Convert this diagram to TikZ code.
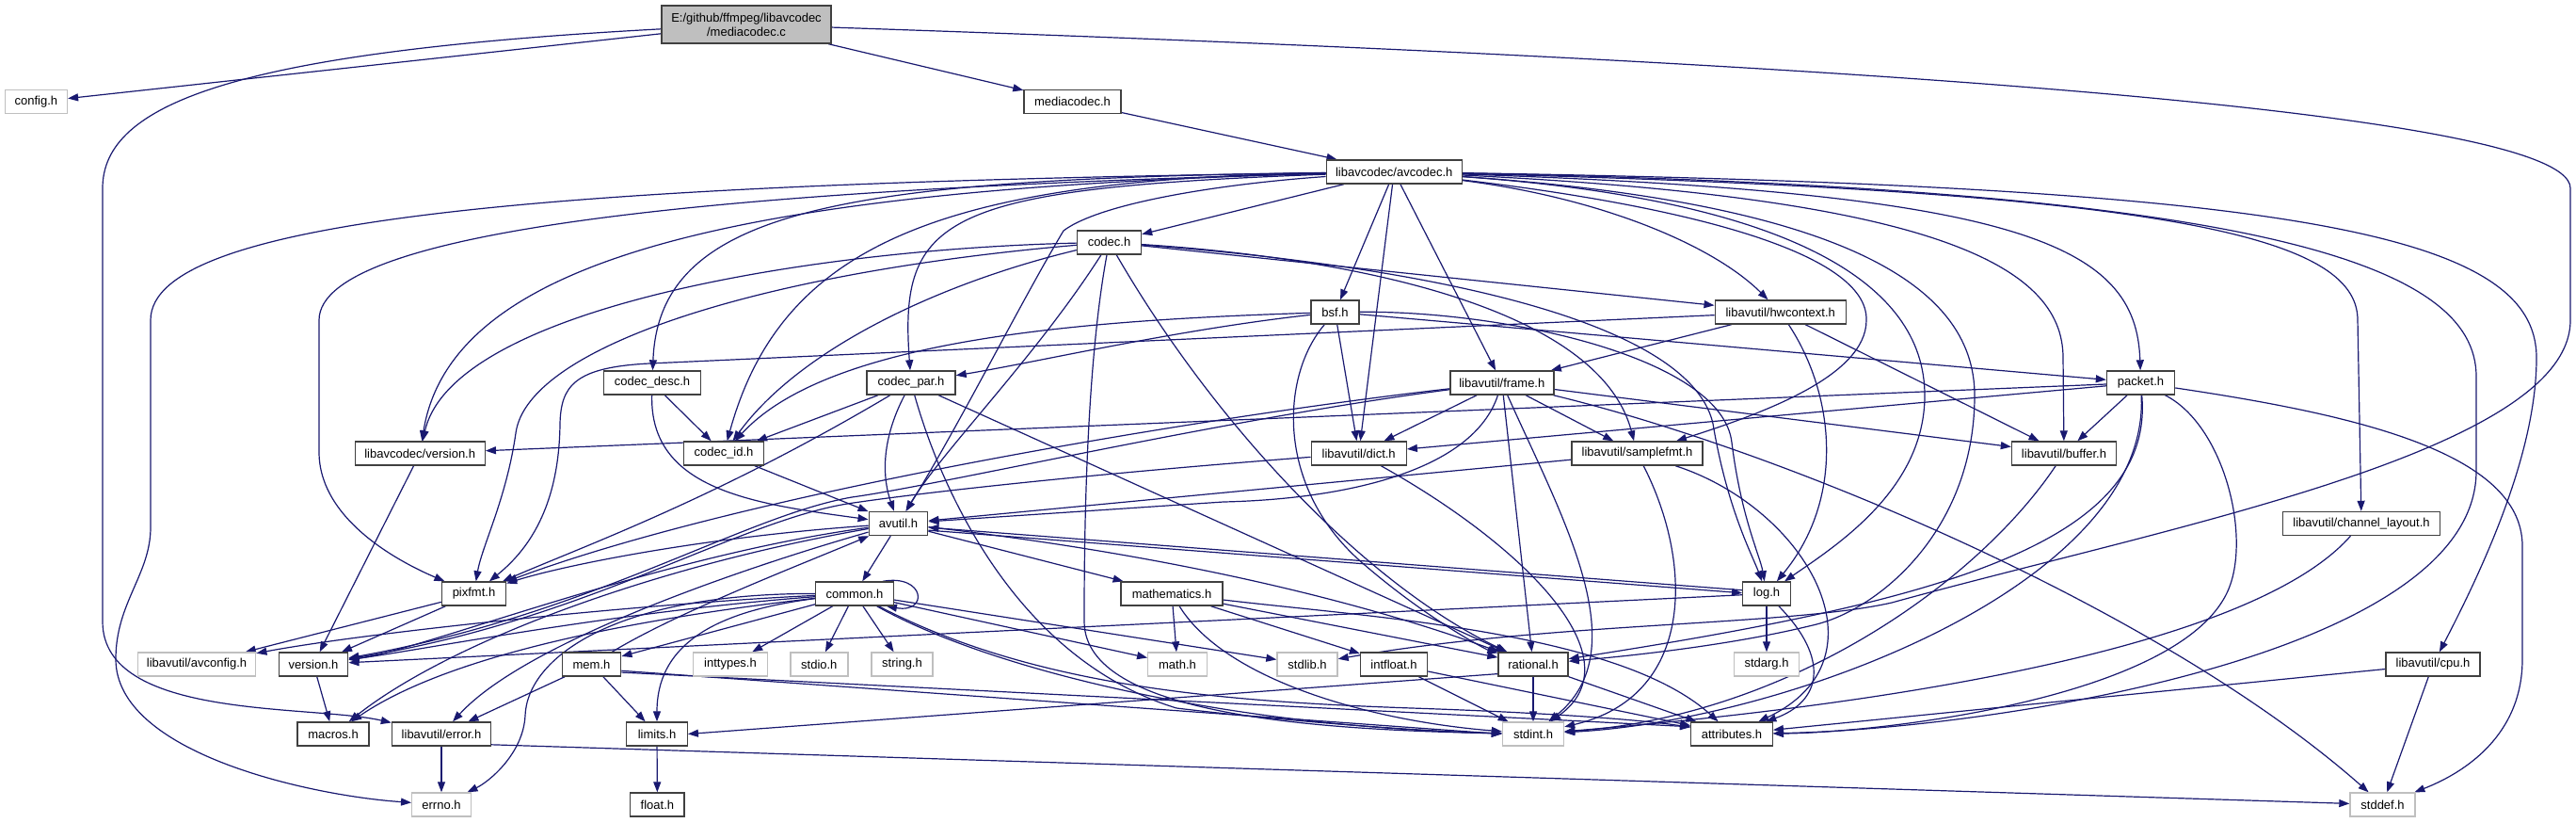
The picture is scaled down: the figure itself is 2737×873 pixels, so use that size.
\documentclass[tikz,border=0pt]{standalone}
\usepackage{fontspec}
\setmainfont{Liberation Sans}
\usetikzlibrary{arrows.meta}
\pgfdeclarelayer{bgzero}
\pgfdeclarelayer{edges}
\pgfsetlayers{bgzero,edges,main}
\definecolor{edgec}{HTML}{191970}
\definecolor{nodeb}{HTML}{404040}
\definecolor{greyb}{HTML}{BFBFBF}
\begin{document}
\begin{tikzpicture}[x=1pt,y=-1pt,
  hdr/.style={draw=nodeb,line width=1.4pt,fill=white,minimum height=25pt,inner sep=0pt,font=\fontsize{13}{15}\selectfont,text=black},
  sys/.style={hdr,draw=greyb},
  e/.style={draw=edgec,line width=1.2pt,-{Triangle[length=11pt,width=8pt]}}]
\useasboundingbox (0,0) rectangle (2737,873);
\begin{pgfonlayer}{bgzero}
\fill[white] (0,0) rectangle (2737,873);
\end{pgfonlayer}
% nodes
\node[hdr,fill=greyb,minimum width=180pt,minimum height=40pt,align=center] (root) at (793,26) {E:/github/ffmpeg/libavcodec\\/mediacodec.c};
\node[sys,minimum width=66pt] (config) at (38.4,108.2) {config.h};
\node[hdr,minimum width=103pt] (mediacodec) at (1139.5,108.2) {mediacodec.h};
\node[hdr,minimum width=144pt] (avcodec) at (1481.2,182.5) {libavcodec/avcodec.h};
\node[hdr,minimum width=68pt] (codec) at (1178.5,257.3) {codec.h};
\node[hdr,minimum width=51pt] (bsf) at (1418.5,331.5) {bsf.h};
\node[hdr,minimum width=139pt] (hwcontext) at (1891.7,331.5) {libavutil/hwcontext.h};
\node[hdr,minimum width=103pt] (codecdesc) at (693,406.5) {codec\_desc.h};
\node[hdr,minimum width=94pt] (codecpar) at (968,406.5) {codec\_par.h};
\node[hdr,minimum width=110pt] (frame) at (1595.8,406.5) {libavutil/frame.h};
\node[hdr,minimum width=72pt] (packet) at (2274.5,406.5) {packet.h};
\node[hdr,minimum width=138pt] (lavcversion) at (446.2,481.5) {libavcodec/version.h};
\node[hdr,minimum width=85pt] (codecid) at (769,481.5) {codec\_id.h};
\node[hdr,minimum width=101pt] (dict) at (1443.7,481.5) {libavutil/dict.h};
\node[hdr,minimum width=139pt] (samplefmt) at (1739.5,481.5) {libavutil/samplefmt.h};
\node[hdr,minimum width=111pt] (buffer) at (2193,481.5) {libavutil/buffer.h};
\node[hdr,minimum width=62.5pt] (avutil) at (954.5,556) {avutil.h};
\node[hdr,minimum width=167pt] (chlayout) at (2509,556) {libavutil/channel\_layout.h};
\node[hdr,minimum width=68pt] (pixfmt) at (503.5,630.5) {pixfmt.h};
\node[hdr,minimum width=82.5pt] (common) at (908,630.5) {common.h};
\node[hdr,minimum width=108pt] (mathematics) at (1245,630.5) {mathematics.h};
\node[hdr,minimum width=50.5pt] (log) at (1877,630.5) {log.h};
\node[sys,minimum width=125.5pt] (avconfig) at (209,705.5) {libavutil/avconfig.h};
\node[hdr,minimum width=73.5pt] (version) at (333,705.5) {version.h};
\node[hdr,minimum width=62.5pt] (mem) at (628.5,705.5) {mem.h};
\node[sys,minimum width=78.5pt] (inttypes) at (776,705.5) {inttypes.h};
\node[sys,minimum width=61pt] (stdio) at (870.3,705.5) {stdio.h};
\node[sys,minimum width=65pt] (string) at (958.5,705.5) {string.h};
\node[sys,minimum width=62.5pt] (math) at (1251,705.5) {math.h};
\node[sys,minimum width=64pt] (stdlib) at (1389,705.5) {stdlib.h};
\node[hdr,minimum width=71pt] (intfloat) at (1481,705.5) {intfloat.h};
\node[hdr,minimum width=74pt] (rational) at (1629,705.5) {rational.h};
\node[sys,minimum width=69.5pt] (stdarg) at (1877,705.5) {stdarg.h};
\node[hdr,minimum width=100pt] (cpu) at (2585,705.5) {libavutil/cpu.h};
\node[hdr,minimum width=76pt] (macros) at (354,779.5) {macros.h};
\node[hdr,minimum width=105pt] (error) at (469,779.5) {libavutil/error.h};
\node[hdr,minimum width=64.5pt] (limits) at (698,779.5) {limits.h};
\node[sys,minimum width=65pt] (stdint) at (1629,779.5) {stdint.h};
\node[hdr,minimum width=86.5pt] (attributes) at (1840,779.5) {attributes.h};
\node[sys,minimum width=62.5pt] (errno) at (469,854.5) {errno.h};
\node[hdr,minimum width=57.5pt] (float) at (698.4,854.5) {float.h};
\node[sys,minimum width=69pt] (stddef) at (2531.5,854.5) {stddef.h};
\begin{pgfonlayer}{edges}
% root
\draw[e] (root) -- (config);
\draw[e] (root) .. controls (250,55) and (109,110) .. (109,200) -- (109,660) .. controls (109,765) and (330,748) .. (error);
\draw[e] (root) -- (mediacodec);
\draw[e] (root) .. controls (1800,60) and (2731,110) .. (2731,200) -- (2731,340) .. controls (2731,480) and (2300,560) .. (2010,640) .. controls (1900,665) and (1650,660) .. (stdlib);
% mediacodec
\draw[e] (mediacodec) -- (avcodec);
% avcodec
\draw[e] (avcodec) .. controls (600,195) and (160,230) .. (160,340) -- (160,560) .. controls (160,610) and (123,640) .. (123,700) .. controls (123,800) and (330,845) .. (errno);
\draw[e] (avcodec) .. controls (800,200) and (339,240) .. (339,340) -- (339,480) .. controls (339,550) and (420,595) .. (pixfmt);
\draw[e] (avcodec) .. controls (800,200) and (480,270) .. (lavcversion);
\draw[e] (avcodec) .. controls (900,190) and (700,220) .. (codecdesc);
\draw[e] (avcodec) .. controls (1000,200) and (955,230) .. (codecpar);
\draw[e] (avcodec) .. controls (1000,190) and (830,260) .. (codecid);
\draw[e] (avcodec) .. controls (1300,195) and (1170,215) .. (1130,245) .. controls (1085,320) and (1020,450) .. (avutil);
\draw[e] (avcodec) -- (codec);
\draw[e] (avcodec) -- (bsf);
\draw[e] (avcodec) -- (dict);
\draw[e] (avcodec) -- (frame);
\draw[e] (avcodec) .. controls (1700,210) and (1820,260) .. (hwcontext);
\draw[e] (avcodec) .. controls (1800,220) and (1985,270) .. (1983,340) .. controls (1983,400) and (1870,440) .. (samplefmt);
\draw[e] (avcodec) .. controls (1900,212) and (2045,300) .. (2045,420) .. controls (2045,520) and (1950,580) .. (log);
\draw[e] (avcodec) .. controls (1950,215) and (2098,300) .. (2098,420) .. controls (2098,560) and (2000,645) .. (1930,663) .. controls (1850,683) and (1750,695) .. (rational);
\draw[e] (avcodec) .. controls (2050,210) and (2192,280) .. (2192,380) -- (buffer);
\draw[e] (avcodec) .. controls (2150,205) and (2270,260) .. (packet);
\draw[e] (avcodec) .. controls (2300,203) and (2505,250) .. (2505,340) -- (chlayout);
\draw[e] (avcodec) .. controls (2400,200) and (2631,280) .. (2631,400) -- (2631,500) .. controls (2631,700) and (2100,775) .. (attributes);
\draw[e] (avcodec) .. controls (2450,198) and (2695,250) .. (2695,380) .. controls (2695,480) and (2640,600) .. (cpu);
% bsf
\draw[e] (bsf) -- (dict);
\draw[e] (bsf) .. controls (1600,330) and (1830,380) .. (1840,470) .. controls (1850,550) and (1870,590) .. (log);
\draw[e] (bsf) .. controls (1360,400) and (1355,520) .. (1450,600) .. controls (1520,660) and (1580,690) .. (rational);
\draw[e] (bsf) .. controls (1150,340) and (880,360) .. (codecid);
\draw[e] (bsf) .. controls (1250,350) and (1100,385) .. (codecpar);
\draw[e] (bsf) -- (packet);
% codec
\draw[e] (codec) -- (hwcontext);
\draw[e] (codec) .. controls (1600,290) and (1800,360) .. (1820,450) .. controls (1835,540) and (1862,590) .. (log);
\draw[e] (codec) .. controls (1450,275) and (1700,330) .. (samplefmt);
\draw[e] (codec) .. controls (1290,450) and (1450,620) .. (rational);
\draw[e] (codec) .. controls (1152,400) and (1152,600) .. (1152,660) .. controls (1152,760) and (1400,775) .. (stdint);
\draw[e] (codec) .. controls (1100,380) and (1000,480) .. (avutil);
\draw[e] (codec) .. controls (1000,300) and (850,370) .. (codecid);
\draw[e] (codec) .. controls (850,265) and (480,330) .. (lavcversion);
\draw[e] (codec) .. controls (800,290) and (560,370) .. (548,460) .. controls (538,530) and (512,580) .. (pixfmt);
% codec_desc
\draw[e] (codecdesc) -- (codecid);
\draw[e] (codecdesc) .. controls (690,520) and (800,535) .. (avutil);
% codec_par
\draw[e] (codecpar) -- (codecid);
\draw[e] (codecpar) .. controls (760,530) and (620,580) .. (pixfmt);
\draw[e] (codecpar) .. controls (940,460) and (935,500) .. (avutil);
\draw[e] (codecpar) .. controls (1000,520) and (1080,700) .. (1250,752) .. controls (1400,770) and (1550,778) .. (stdint);
\draw[e] (codecpar) -- (rational);
% codec_id
\draw[e] (codecid) -- (avutil);
% packet
\draw[e] (packet) -- (lavcversion);
\draw[e] (packet) -- (dict);
\draw[e] (packet) -- (buffer);
\draw[e] (packet) .. controls (2500,440) and (2680,480) .. (2680,580) -- (2680,700) .. controls (2680,780) and (2620,820) .. (stddef);
\draw[e] (packet) .. controls (2290,580) and (2050,640) .. (rational);
\draw[e] (packet) .. controls (2285,620) and (1900,765) .. (stdint);
\draw[e] (packet) .. controls (2360,450) and (2390,560) .. (2370,620) .. controls (2330,740) and (2000,778) .. (attributes);
% libavcodec/version.h
\draw[e] (lavcversion) -- (version);
% frame
\draw[e] (frame) -- (dict);
\draw[e] (frame) -- (samplefmt);
\draw[e] (frame) -- (buffer);
\draw[e] (frame) -- (rational);
\draw[e] (frame) .. controls (1660,550) and (1740,690) .. (stdint);
\draw[e] (frame) .. controls (1565,500) and (1430,530) .. (1300,533) -- (avutil);
\draw[e] (frame) .. controls (1300,440) and (800,520) .. (pixfmt);
\draw[e] (frame) .. controls (1300,445) and (1000,515) .. (905,528) .. controls (790,548) and (630,652) .. (version);
\draw[e] (frame) .. controls (1900,480) and (2300,650) .. (stddef);
% hwcontext
\draw[e] (hwcontext) -- (frame);
\draw[e] (hwcontext) -- (buffer);
\draw[e] (hwcontext) .. controls (1950,420) and (1960,530) .. (log);
\draw[e] (hwcontext) -- (690,386) .. controls (610,390) and (596,410) .. (595,450) .. controls (594,540) and (560,585) .. (pixfmt);
% dict
\draw[e] (dict) .. controls (1620,580) and (1740,700) .. (stdint);
\draw[e] (dict) .. controls (1200,500) and (1000,520) .. (900,535) .. controls (780,555) and (620,660) .. (version);
% samplefmt
\draw[e] (samplefmt) -- (avutil);
\draw[e] (samplefmt) .. controls (1800,600) and (1800,740) .. (stdint);
\draw[e] (samplefmt) .. controls (1920,540) and (2010,700) .. (attributes);
% buffer, channel layout, cpu
\draw[e] (buffer) .. controls (2100,620) and (1900,760) .. (stdint);
\draw[e] (chlayout) .. controls (2400,680) and (2050,745) .. (stdint);
\draw[e] (cpu) -- (stddef);
\draw[e] (cpu) -- (attributes);
% avutil
\draw[e] (avutil) -- (common);
\draw[e] (avutil) -- (mathematics);
\draw[e] ([yshift=-1.5pt]avutil.-10) -- ([yshift=-1.5pt]log.175);
\draw[e] ([yshift=1.5pt]log.175) -- ([yshift=1.5pt]avutil.-10);
\draw[e] (avutil) .. controls (1250,590) and (1450,640) .. (rational);
\draw[e] (avutil) .. controls (800,600) and (560,680) .. (error);
\draw[e] (avutil) .. controls (700,600) and (480,680) .. (macros);
\draw[e] (avutil) .. controls (700,590) and (450,690) .. (version);
\draw[e] (avutil) .. controls (750,570) and (600,600) .. (pixfmt);
% common
\draw[e] (common) -- (inttypes);
\draw[e] (common) -- (stdio);
\draw[e] (common) -- (string);
\draw[e] ([xshift=-12pt]common.north east) .. controls +(45pt,8pt) and +(45pt,-8pt) .. ([xshift=-8pt]common.south east);
\draw[e] (common) .. controls (650,630) and (560,700) .. (558,760) .. controls (556,800) and (520,830) .. (errno);
\draw[e] (common) .. controls (750,650) and (698,690) .. (limits);
\draw[e] (common) -- (math);
\draw[e] (common) .. controls (1050,710) and (1300,772) .. (stdint);
\draw[e] (common) -- (stdlib);
\draw[e] (common) .. controls (1100,730) and (1300,745) .. (1500,752) .. controls (1650,757) and (1750,765) .. (attributes);
\draw[e] (common) .. controls (650,660) and (470,700) .. (macros);
\draw[e] (common) .. controls (650,650) and (450,690) .. (version);
\draw[e] (common) .. controls (700,640) and (400,670) .. (avconfig);
\draw[e] (common) -- (mem);
% mem
\draw[e] (mem) -- (limits);
\draw[e] (mem) -- (error);
\draw[e] (mem.-12) -- (stdint.west);
\draw[e] (mem.-15) -- (attributes.170);
\draw[e] (mem) .. controls (720,650) and (850,600) .. (avutil);
% error
\draw[e] (error) -- (errno);
\draw[e] (error.-12) -- (stddef);
% rational
\draw[e] (rational) -- (stdint);
\draw[e] (rational.195) -- (limits.east);
\draw[e] (rational) -- (attributes);
% mathematics
\draw[e] (mathematics) -- (math);
\draw[e] (mathematics) -- (rational);
\draw[e] (mathematics) -- (intfloat);
\draw[e] (mathematics) .. controls (1300,720) and (1450,765) .. (stdint);
\draw[e] (mathematics) .. controls (1450,655) and (1720,670) .. (attributes);
% intfloat
\draw[e] (intfloat) -- (stdint);
\draw[e] (intfloat) -- (attributes);
% log
\draw[e] (log) -- (stdarg);
\draw[e] (log) -- (version);
\draw[e] (log) .. controls (1945,700) and (1935,745) .. (attributes);
% pixfmt, version, limits
\draw[e] (pixfmt) -- (avconfig);
\draw[e] (pixfmt) -- (version);
\draw[e] (version) -- (macros);
\draw[e] (limits) -- (float);
\end{pgfonlayer}
\end{tikzpicture}
\end{document}
